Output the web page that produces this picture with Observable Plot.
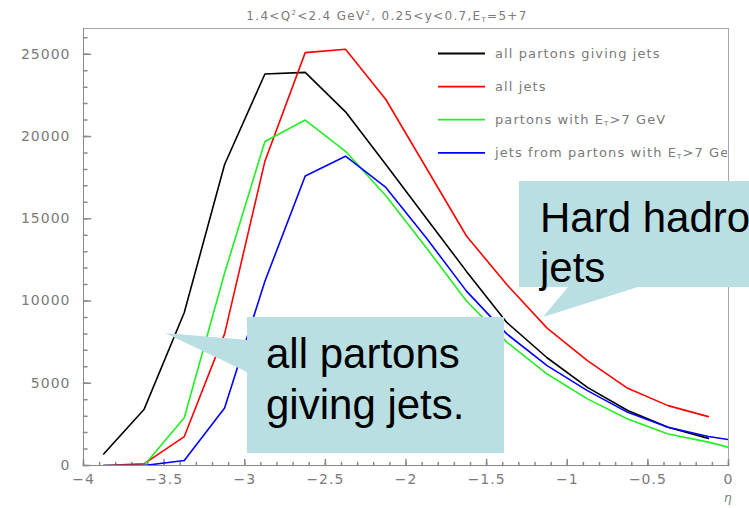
<!DOCTYPE html>
<html>
<head>
<meta charset="utf-8">
<script src="https://cdn.jsdelivr.net/npm/d3@7"></script>
<script src="https://cdn.jsdelivr.net/npm/@observablehq/plot@0.6"></script>
<style>
  html, body { margin: 0; padding: 0; background: #fff; }
  #wrap { position: relative; width: 749px; height: 508px; overflow: hidden; }
  #overlay { position: absolute; left: 0; top: 0; pointer-events: none; }
  #wrap svg text.tick-label { letter-spacing: 1px; }
</style>
</head>
<body>
<div id="wrap"></div>
<script>
// ---- data ----
const eta = [-3.875, -3.625, -3.375, -3.125, -2.875, -2.625, -2.375, -2.125, -1.875, -1.625, -1.375, -1.125, -0.875, -0.625, -0.375, -0.125];
const etaExt = [-3.875, -3.625, -3.375, -3.125, -2.875, -2.625, -2.375, -2.125, -1.875, -1.625, -1.375, -1.125, -0.875, -0.625, -0.375, -0.125, 0.125];
const allPartons = [700, 3400, 9300, 18300, 23800, 23900, 21500, 18300, 15050, 11800, 8700, 6550, 4750, 3340, 2330, 1650];
const allJets = [0, 100, 1760, 8000, 18500, 25100, 25300, 22250, 18100, 13950, 11000, 8350, 6370, 4690, 3640, 2970];
const hardPartons = [0, 0, 2900, 11700, 19700, 21000, 19100, 16400, 13250, 10000, 7500, 5560, 4050, 2830, 1920, 1420, 800];
const hardJets = [0, 0, 300, 3500, 11200, 17600, 18800, 16900, 13850, 10600, 8000, 6070, 4550, 3230, 2330, 1760, 1400];
const seriesNames = ["all partons giving jets", "all jets", "partons with E_T>7 GeV", "jets from partons with E_T>7 GeV"];
const seriesColors = ["#000000", "#ff0000", "#22ee22", "#0000ff"];
const xTickLabels = [-4, -3.5, -3, -2.5, -2, -1.5, -1, -0.5, 0];
const yTickLabels = [0, 5000, 10000, 15000, 20000, 25000];
const titleParts = ["1.4<Q", "2", "<2.4 GeV", "2", ", 0.25<y<0.7,E", "T", "=5+7"];
const calloutHard = ["Hard hadro", "jets"];
const calloutPartons = ["all partons", "giving jets."];

// ---- build tables ----
const seriesValues = [allPartons, allJets, hardPartons, hardJets];
const seriesEta = [eta, eta, etaExt, etaExt];
const rows = seriesValues.map((vals, s) => vals.map((v, i) => ({eta: seriesEta[s][i], value: v, series: seriesNames[s]})));
const xMinor = d3.range(-40, 1).map(d => d / 10);
const yMinor = d3.range(0, 27).map(d => d * 1000);
const tickShape = {draw(context, l) { context.moveTo(0, 0); context.lineTo(0, -l); }};
const axisGray = "#8a8a8a";
const labelGray = "#7a7a7a";
const fmtX = d => (d < 0 ? "\u2212" : "") + String(Math.abs(d));

const chart = Plot.plot({
  width: 749,
  height: 508,
  marginLeft: 83,
  marginRight: 21,
  marginTop: 28,
  marginBottom: 43,
  style: {fontFamily: "DejaVu Sans, sans-serif", background: "transparent"},
  x: {domain: [-4, 0]},
  y: {domain: [0, 26565]},
  marks: [
    Plot.frame({stroke: "#aaaaaa"}),
    Plot.ruleX([-4], {stroke: axisGray}),
    Plot.ruleY([0], {stroke: axisGray}),
    Plot.vector(yMinor, {y: d => d, frameAnchor: "left", rotate: 90, anchor: "start", length: 3.5, stroke: axisGray, shape: tickShape}),
    Plot.vector(yTickLabels, {y: d => d, frameAnchor: "left", rotate: 90, anchor: "start", length: 7, stroke: axisGray, shape: tickShape}),
    Plot.vector(xMinor, {x: d => d, frameAnchor: "bottom", rotate: 0, anchor: "start", length: 3, stroke: axisGray, shape: tickShape}),
    Plot.vector(xTickLabels, {x: d => d, frameAnchor: "bottom", rotate: 0, anchor: "start", length: 6, stroke: axisGray, shape: tickShape}),
    Plot.axisY({ticks: yTickLabels, tickSize: 0, tickPadding: 13, tickFormat: d3.format("d"), fontSize: 14, color: labelGray, label: null, className: "tick-label"}),
    Plot.axisX({ticks: xTickLabels, tickSize: 0, tickPadding: 9, tickFormat: fmtX, fontSize: 14, color: labelGray, label: null, className: "tick-label"}),
    ...rows.map((r, s) => Plot.line(r, {x: "eta", y: "value", stroke: seriesColors[s], strokeWidth: 1.6, clip: true}))
  ]
});

const wrap = document.getElementById("wrap");
wrap.appendChild(chart);
// widen tick label lettering like the reference font
d3.select(chart).selectAll("[aria-label='y-axis tick label'] text, [aria-label='x-axis tick label'] text")
  .attr("letter-spacing", 1);

// ---- overlay: title, legend, axis label, callouts ----
const ns = "http://www.w3.org/2000/svg";
const ov = d3.select(wrap).append("svg").attr("id", "overlay").attr("width", 749).attr("height", 508)
  .attr("xmlns", ns);

// title
const title = ov.append("text").attr("x", 387).attr("y", 20).attr("text-anchor", "middle")
  .attr("font-family", "DejaVu Sans, sans-serif").attr("font-size", 12).attr("letter-spacing", 1.3).attr("fill", labelGray);
title.append("tspan").text(titleParts[0]);
title.append("tspan").attr("font-size", 7).attr("dy", -5).text(titleParts[1]);
title.append("tspan").attr("dy", 5).text(titleParts[2]);
title.append("tspan").attr("font-size", 7).attr("dy", -5).text(titleParts[3]);
title.append("tspan").attr("dy", 5).text(titleParts[4]);
title.append("tspan").attr("font-size", 7).attr("dy", 2).text(titleParts[5]);
title.append("tspan").attr("dy", -2).text(titleParts[6]);

// legend (clipped at the frame's right edge)
ov.append("clipPath").attr("id", "legclip").append("rect").attr("x", 0).attr("y", 0).attr("width", 727).attr("height", 508);
const leg = ov.append("g").attr("clip-path", "url(#legclip)");
seriesNames.forEach((name, i) => {
  const y = 53.5 + i * 33.1;
  leg.append("line").attr("x1", 438).attr("x2", 485).attr("y1", y).attr("y2", y)
    .attr("stroke", seriesColors[i]).attr("stroke-width", 1.8);
  const t = leg.append("text").attr("x", 495).attr("y", y + 4.5)
    .attr("font-family", "DejaVu Sans, sans-serif").attr("font-size", 13).attr("letter-spacing", 1.1).attr("fill", labelGray);
  const parts = name.split("E_T");
  if (parts.length === 2) {
    t.append("tspan").text(parts[0] + "E");
    t.append("tspan").attr("font-size", 7).attr("dy", 2).text("T");
    t.append("tspan").attr("dy", -2).text(parts[1]);
  } else {
    t.text(name);
  }
});

// axis label
ov.append("text").attr("x", 724).attr("y", 502).attr("font-family", "DejaVu Sans, sans-serif")
  .attr("font-size", 12).attr("font-style", "italic").attr("fill", labelGray).text("η");

// callouts
const boxFill = "#b9dfe3";
ov.append("path").attr("fill", boxFill)
  .attr("d", "M247,317 L504,317 L504,453 L247,453 L247,372 L165,333 L247,340 Z");
ov.append("path").attr("fill", boxFill)
  .attr("d", "M519,181 L760,181 L760,287 L638,287 L543,317 L568,287 L519,287 Z");

const calloutFont = "Liberation Sans, Arial, sans-serif";
calloutHard.forEach((s, i) => {
  ov.append("text").attr("x", 540).attr("y", 232 + i * 50).attr("font-family", calloutFont)
    .attr("font-size", 42).attr("fill", "#000").text(s);
});
calloutPartons.forEach((s, i) => {
  ov.append("text").attr("x", 266).attr("y", 368 + i * 51).attr("font-family", calloutFont)
    .attr("font-size", 42).attr("fill", "#000").text(s);
});
</script>
</body>
</html>
